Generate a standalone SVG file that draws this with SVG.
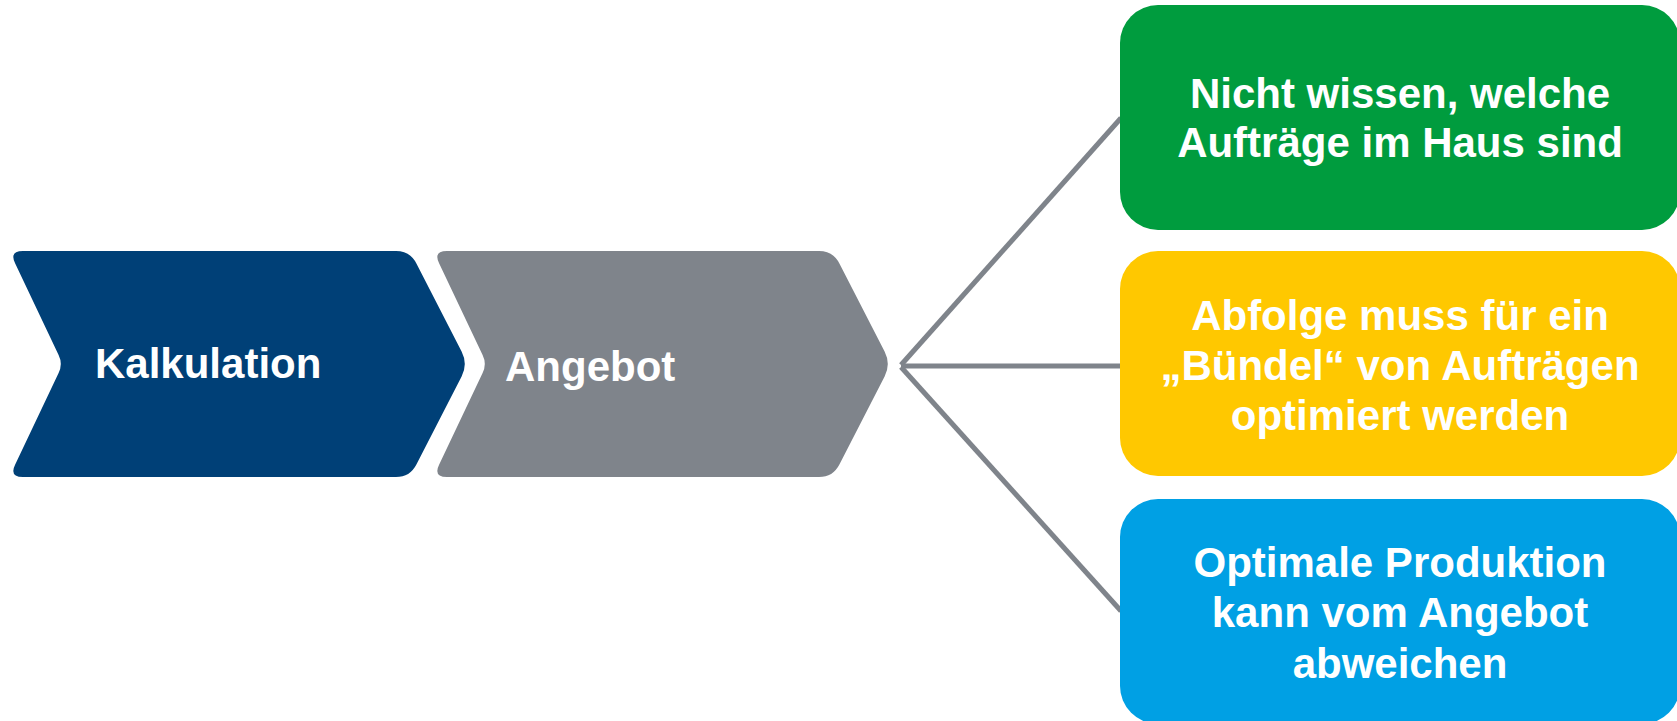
<svg xmlns="http://www.w3.org/2000/svg" width="1677" height="721" viewBox="0 0 1677 721">
<style>
.lbl{font-family:"Liberation Sans",Arial,sans-serif;font-weight:bold;font-size:42px;fill:#ffffff}
.ctr{text-anchor:middle}
.conn{stroke:#7f848b;stroke-width:5;fill:none}
</style>
<rect width="1677" height="721" fill="#ffffff"/>
<g id="kalkulation">
<path fill="#004077" d="M23,251 L396,251 Q410,251 416.4,263.5 L461.6,351.5 Q468,364 461.6,376.5 L416.4,464.5 Q410,477 396,477 L23,477 Q9,477 15.2,464.5 L58.6,373 Q63,364 58.6,355 L15.2,263.5 Q9,251 23,251 Z"/>
<text class="lbl" x="95" y="378">Kalkulation</text>
</g>
<g id="angebot">
<path fill="#7f848b" d="M447,251 L819,251 Q833,251 839.4,263.5 L884.6,351.5 Q891,364 884.6,376.5 L839.4,464.5 Q833,477 819,477 L447,477 Q433,477 439.2,464.5 L482.6,373 Q487,364 482.6,355 L439.2,263.5 Q433,251 447,251 Z"/>
<text class="lbl" x="505" y="381">Angebot</text>
</g>
<g id="connectors">
<line class="conn" x1="901" y1="365" x2="1121" y2="118"/>
<line class="conn" x1="901" y1="366" x2="1121" y2="366"/>
<line class="conn" x1="901" y1="367" x2="1121" y2="611"/>
</g>
<g id="box-green">
<rect x="1120" y="5" width="560" height="225" rx="38" ry="38" fill="#009c3e"/>
<text class="lbl ctr" x="1400" y="108">Nicht wissen, welche</text>
<text class="lbl ctr" x="1400" y="157">Aufträge im Haus sind</text>
</g>
<g id="box-yellow">
<rect x="1120" y="251" width="560" height="225" rx="38" ry="38" fill="#ffc800"/>
<text class="lbl ctr" x="1400" y="330">Abfolge muss für ein</text>
<text class="lbl ctr" x="1400" y="380">„Bündel“ von Aufträgen</text>
<text class="lbl ctr" x="1400" y="430">optimiert werden</text>
</g>
<g id="box-blue">
<rect x="1120" y="499" width="560" height="225" rx="38" ry="38" fill="#00a0e4"/>
<text class="lbl ctr" x="1400" y="577">Optimale Produktion</text>
<text class="lbl ctr" x="1400" y="627">kann vom Angebot</text>
<text class="lbl ctr" x="1400" y="678">abweichen</text>
</g>
</svg>
